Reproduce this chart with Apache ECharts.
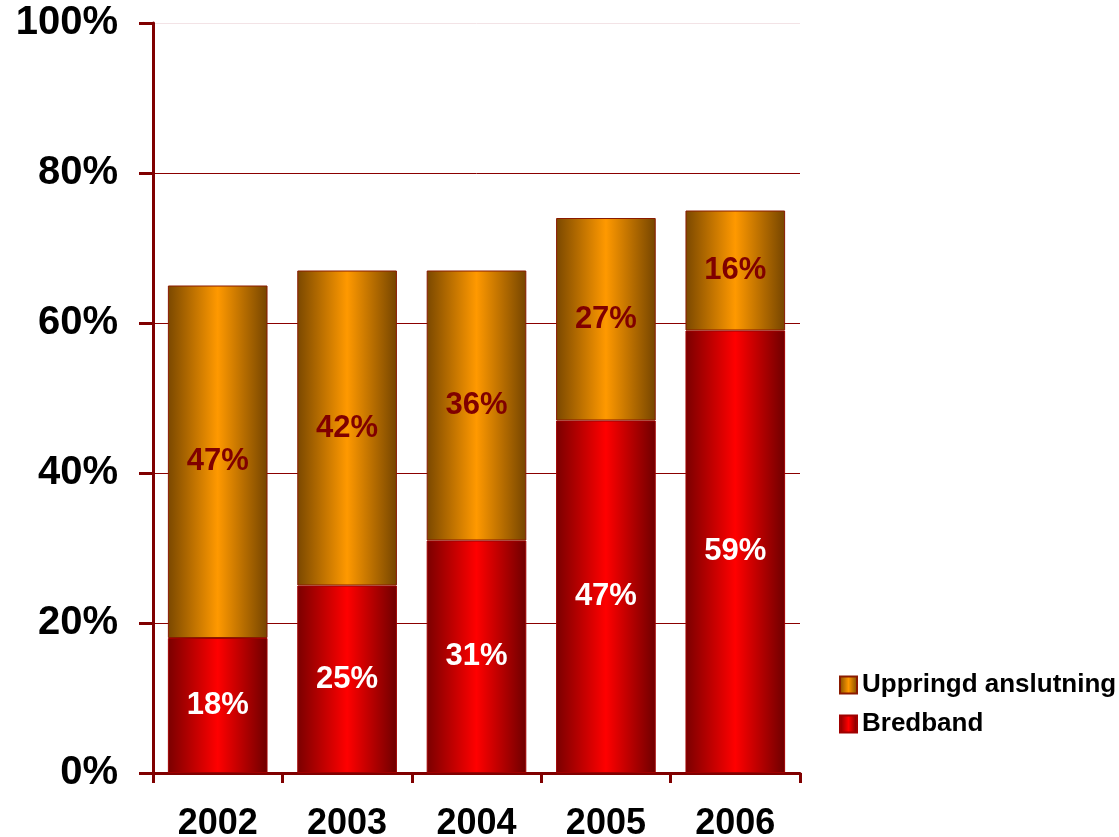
<!DOCTYPE html>
<html>
<head>
<meta charset="utf-8">
<script src="https://cdn.jsdelivr.net/npm/echarts@6/dist/echarts.min.js"></script>
<style>html,body{margin:0;padding:0;background:#fff}#c{width:1119px;height:837px}</style>
</head>
<body>
<div id="c"></div>
<script>
const categories = ['2002', '2003', '2004', '2005', '2006'];
const bredband = [18, 25, 31, 47, 59];
const uppringd = [47, 42, 36, 27, 16];
const yTicks = [0, 20, 40, 60, 80, 100];

function grad(edge, mid, edge2) {
  return new echarts.graphic.LinearGradient(0, 0, 1, 0, [
    { offset: 0, color: edge },
    { offset: 0.5, color: mid },
    { offset: 1, color: edge2 }
  ]);
}
const font = 'Liberation Sans, Arial, sans-serif';
const chart = echarts.init(document.getElementById('c'));
chart.setOption({
  animation: false,
  backgroundColor: '#fff',
  grid: { left: 153, right: 319, top: 23, bottom: 64, containLabel: false, outerBoundsMode: 'none' },
  legend: {
    data: ['Uppringd anslutning', 'Bredband'],
    orient: 'vertical',
    left: 834, top: 667,
    icon: 'rect',
    itemWidth: 17, itemHeight: 17, itemGap: 13,
    textStyle: { fontFamily: font, fontWeight: 'bold', fontSize: 26, color: '#000' }
  },
  xAxis: {
    type: 'category',
    data: categories,
    axisLine: { lineStyle: { color: '#800000', width: 3 } },
    axisTick: { show: true, length: 10, alignWithLabel: false, lineStyle: { color: '#800000', width: 3 } },
    axisLabel: { fontFamily: font, fontWeight: 'bold', fontSize: 36, color: '#000', margin: 33 }
  },
  yAxis: {
    type: 'value', min: 0, max: 100, interval: 20,
    axisLine: { show: true, lineStyle: { color: '#800000', width: 3 } },
    axisTick: { show: true, length: 14, lineStyle: { color: '#800000', width: 3 } },
    axisLabel: { fontFamily: font, fontWeight: 'bold', fontSize: 40, color: '#000', margin: 35,
      formatter: v => v + '%' },
    splitLine: { show: true, lineStyle: { width: 1,
      color: ['#8b0000', '#8b0000', '#8b0000', '#8b0000', '#8b0000', '#f3e3e6'] } }
  },
  series: [
    {
      name: 'Bredband', type: 'bar', stack: 's', data: bredband,
      barCategoryGap: '23%',
      itemStyle: { color: grad('#7a0000', '#ff0000', '#6e0000'), borderColor: '#a00000', borderWidth: 1 },
      label: { show: true, position: 'inside', formatter: p => p.value + '%',
        fontFamily: font, fontWeight: 'bold', fontSize: 31, color: '#fff' }
    },
    {
      name: 'Uppringd anslutning', type: 'bar', stack: 's', data: uppringd,
      itemStyle: { color: grad('#7a4800', '#ff9900', '#754500'), borderColor: '#8a1a00', borderWidth: 1 },
      label: { show: true, position: 'inside', formatter: p => p.value + '%',
        fontFamily: font, fontWeight: 'bold', fontSize: 31, color: '#800000' }
    }
  ]
});
</script>
</body>
</html>
